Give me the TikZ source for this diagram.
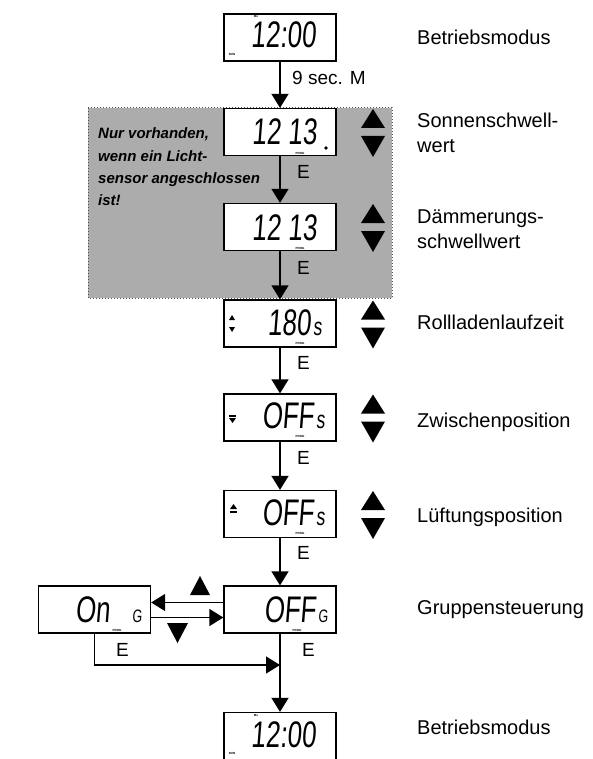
\documentclass[tikz,border=0pt]{standalone}
\usepackage{fontspec}
\setmainfont{Liberation Sans}
\newfontfamily\lcdfont[FakeSlant=0.08,FakeStretch=0.7]{Liberation Sans}
\usetikzlibrary{arrows.meta}

\definecolor{sensorgray}{HTML}{ACACAC}
\definecolor{rim}{HTML}{505050}

\tikzset{
	lcd/.style={draw, line width=1.3pt, fill=white, minimum width=112pt, minimum height=47pt, inner sep=0pt},
	digits/.style={anchor=base east, inner sep=0pt, text depth=0pt, font=\lcdfont\fontsize{37}{37}\selectfont},
	unit/.style={anchor=base west, inner sep=0pt, text depth=0pt, font=\lcdfont\fontsize{25}{25}\selectfont},
	tiny/.style={inner sep=0pt, font=\bfseries\fontsize{3}{3}\selectfont},
	mode/.style={anchor=west, align=left, inner sep=0pt, font=\fontsize{20}{24.5}\selectfont},
	key/.style={anchor=west, inner sep=0pt, font=\fontsize{19}{19}\selectfont},
	flow/.style={line width=1.3pt, -{Triangle[width=17pt,length=14pt]}},
}
% up and down keys beside a display
\newcommand{\updown}[2]{%
	\fill (#1-12,#2-4) -- (#1+12,#2-4) -- (#1,#2-23) -- cycle;
	\fill (#1-12,#2+4) -- (#1+12,#2+4) -- (#1,#2+25) -- cycle;}

\begin{document}
\begin{tikzpicture}[x=1pt,y=-1pt]
	\useasboundingbox (0,0) rectangle (592,759);
	\clip (0,0) rectangle (592,759);

	% light sensor part
	\fill[sensorgray] (88,108) rectangle (392,298);
	\draw[rim, line width=1pt, dotted] (88,108) rectangle (392,298);
	\node[anchor=west, align=left, inner sep=0pt, font=\bfseries\itshape\fontsize{15}{22.3}\selectfont] (hint) at (98,167)
		{Nur vorhanden,\\wenn ein Licht-\\sensor angeschlossen\\ist!};

	% displays
	\node[lcd] (run1) at (280,37.5) {};
	\node[lcd] (sun) at (280,132) {};
	\node[lcd] (dusk) at (280,227) {};
	\node[lcd] (time) at (280,323.5) {};
	\node[lcd] (mid) at (280,417.5) {};
	\node[lcd] (vent) at (280,514) {};
	\node[lcd] (groupoff) at (280,609.5) {};
	\node[lcd] (groupon) at (94.5,609.5) {};
	\node[lcd] (run2) at (280,736) {};

	\node[digits] (d1) at (316,48) {12:00};
	\node[tiny] (mo1) at (256,16.5) {Mo};
	\node[tiny] (rn1) at (232,54) {RUN};

	\node[digits] (d2) at (317,145) {12 13};
	\node[tiny] (p2) at (300,153) {PROG};
	\fill (326,148) circle (1.8);

	\node[digits] (d3) at (317,240) {12 13};
	\node[tiny] (p3) at (300,248) {PROG};

	\node[digits] (d4) at (311,335) {180};
	\node[unit] (u4) at (313,335) {s};
	\node[tiny] (p4) at (300,343.5) {PROG};
	\fill (229,320) -- (235,320) -- (232,315) -- cycle;
	\fill (229,327) -- (235,327) -- (232,332) -- cycle;

	\node[digits] (d5) at (314,428) {OFF};
	\node[unit] (u5) at (316,428) {s};
	\node[tiny] (p5) at (300,436.5) {PROG};
	\fill (229,415) rectangle (236,416.5);
	\fill (229,418) -- (236,418) -- (232.5,423) -- cycle;

	\node[digits] (d6) at (314,525) {OFF};
	\node[unit] (u6) at (316,525) {s};
	\node[tiny] (p6) at (300,533.5) {PROG};
	\fill (230,509) -- (237,509) -- (233.5,504) -- cycle;
	\fill (230,511) rectangle (237,512.5);

	\node[digits] (d7) at (316,622) {OFF};
	\node[unit, font=\lcdfont\fontsize{18}{18}\selectfont] (u7) at (318,622) {G};
	\node[tiny] (p7) at (297,630) {PROG};

	\node[digits] (d8) at (110,622) {On};
	\node[unit, font=\lcdfont\fontsize{18}{18}\selectfont] (u8) at (132,622) {G};
	\node[tiny] (p8) at (117,630) {PROG};

	\node[digits] (d9) at (316,747) {12:00};
	\node[tiny] (mo9) at (256,715.5) {Mo};
	\node[tiny] (rn9) at (232,753) {RUN};

	% flow
	\coordinate (join) at (280,665);
	\draw[flow] (run1) -- (sun);
	\draw[flow] (sun) -- (dusk);
	\draw[flow] (dusk) -- (time);
	\draw[flow] (time) -- (mid);
	\draw[flow] (mid) -- (vent);
	\draw[flow] (vent) -- (groupoff);
	\draw[line width=1.3pt] (groupoff) -- (join);
	\draw[flow] (join) -- (run2);
	\draw[flow] (groupon.south) |- (join);
	\draw[flow] ([yshift=7pt]groupoff.west) -- ([yshift=7pt]groupon.east);
	\draw[flow] ([yshift=-8pt]groupon.east) -- ([yshift=-8pt]groupoff.west);

	\node[key] (k1) at (292,78) {9 sec. M};
	\node[key] (k2) at (297,172) {E};
	\node[key] (k3) at (297,268) {E};
	\node[key] (k4) at (297,363) {E};
	\node[key] (k5) at (297,458) {E};
	\node[key] (k6) at (297,553) {E};
	\node[key] (k7) at (302,650) {E};
	\node[key] (k8) at (116,650) {E};

	% keys
	\updown{373}{132}
	\updown{373}{227}
	\updown{373}{323.5}
	\updown{373}{417.5}
	\updown{373}{514}
	\fill (190,595) -- (210,595) -- (200,576) -- cycle;
	\fill (167,623) -- (188,623) -- (177.5,643) -- cycle;

	% mode names
	\node[mode] (m1) at (417,37) {Betriebsmodus};
	\node[mode] (m2) at (417,133) {Sonnenschwell-\\wert};
	\node[mode] (m3) at (417,229) {Dämmerungs-\\schwellwert};
	\node[mode] (m4) at (417,322) {Rollladenlaufzeit};
	\node[mode] (m5) at (417,422) {Zwischenposition};
	\node[mode] (m6) at (417,517) {Lüftungsposition};
	\node[mode] (m7) at (417,610) {Gruppensteuerung};
	\node[mode] (m8) at (417,727) {Betriebsmodus};
\end{tikzpicture}
\end{document}
